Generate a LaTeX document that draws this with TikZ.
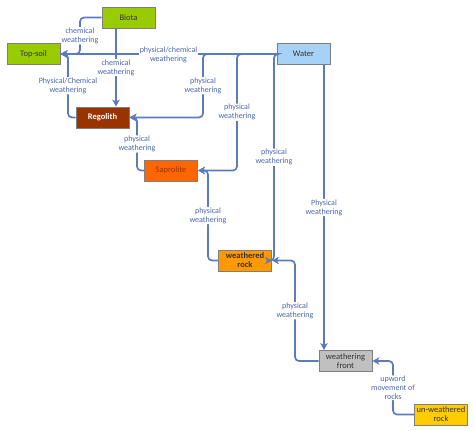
\documentclass[tikz,border=0pt]{standalone}
\usepackage{fontspec}
\setmainfont{Carlito}
\usepackage{tikz}
\usetikzlibrary{arrows.meta}
\definecolor{flowblue}{HTML}{5B7BC0}
\definecolor{lblblue}{HTML}{4A66AA}
\definecolor{boxgray}{HTML}{7F7F7F}
\definecolor{biotagreen}{HTML}{99CC00}
\definecolor{waterblue}{HTML}{A6D2F5}
\definecolor{regolithred}{HTML}{993300}
\definecolor{saproliteorange}{HTML}{FF6600}
\definecolor{rockorange}{HTML}{FF9900}
\definecolor{frontgray}{HTML}{C0C0C0}
\definecolor{bedrockyellow}{HTML}{FFCC00}
\tikzset{%
  box/.style={draw=boxgray,line width=0.9pt,align=center,minimum width=53pt,minimum height=21pt,inner sep=1pt,text=black!80},
  flow/.style={-{Stealth[length=7pt,width=7.5pt,inset=2pt]}, line width=1.7pt, draw=flowblue, rounded corners=4pt}%
}

\begin{document}
\begin{tikzpicture}[
    x=1pt, y=-1pt,
    font=\fontsize{8.5}{9}\selectfont,
    lbl/.style={
        fill=white,
        text=lblblue,
        align=center,
        inner sep=0.6pt,
        font=\fontsize{8}{9}\selectfont
    }
]
\useasboundingbox (0,0) rectangle (474,431);

% Soil layers and agents
\node[box, fill=biotagreen] (biota) at (128.5,17.5) {Biota};
\node[box, fill=biotagreen] (topsoil) at (33.5,54) {Top-soil};
\node[box, fill=waterblue] (water) at (303.5,54) {Water};
\node[box, fill=regolithred, text=white, font=\bfseries\fontsize{8.5}{9}\selectfont] (regolith) at (102.5,117.5) {Regolith};
\node[box, fill=saproliteorange, text=regolithred] (saprolite) at (171,170.5) {Saprolite};
\node[box, fill=rockorange, font=\bfseries\fontsize{8.5}{9}\selectfont] (wrock) at (245,260.5) {weathered\\rock};
\node[box, fill=frontgray] (wfront) at (345.5,361) {weathering\\front};
\node[box, fill=bedrockyellow] (unrock) at (441,414.5) {un-weathered\\rock};

% Water
\draw[flow] (water.west) -- node[lbl, pos=0.5, yshift=-1pt] {physical/chemical\\weathering} (topsoil.east);
\draw[flow] (water.west) -- (203,54) -- node[lbl] {physical\\weathering} (203,117.5) -- (regolith.east);
\draw[flow] (water.west) -- (237,54) -- node[lbl] {physical\\weathering} (237,170.5) -- (saprolite.east);
\draw[flow] (water.west) -- (274,54) -- node[lbl] {physical\\weathering} (274,260.5) [sharp corners] -- (wrock.east);
\draw[flow] ([xshift=20.5pt]water.south) -- node[lbl] {Physical\\weathering} ([xshift=-21.5pt]wfront.north);

% Biota
\draw[flow] (biota.west) -- (80,17.5) -- node[lbl] {chemical\\weathering} (80,54) -- (topsoil.east);
\draw[flow] ([xshift=-12.5pt]biota.south) -- node[lbl] {chemical\\weathering} ([xshift=13.5pt]regolith.north);

% Upward through the profile
\draw[flow] (regolith.west) -- (68,117.5) -- node[lbl] {Physical/Chemical\\weathering} (68,54) -- (topsoil.east);
\draw[flow] (saprolite.west) -- (137,170.5) -- node[lbl] {physical\\weathering} (137,117.5) [sharp corners] -- (regolith.east);
\draw[flow] (wrock.west) -- (208,260.5) -- node[lbl] {physical\\weathering} (208,170.5) -- (saprolite.east);
\draw[flow] (wfront.west) -- (295,361) -- node[lbl] {physical\\weathering} (295,260.5) -- (wrock.east);
\draw[flow] (unrock.west) -- (393,414.5) -- node[lbl] {upword\\movement of\\rocks} (393,361) -- (wfront.east);

\end{tikzpicture}
\end{document}
